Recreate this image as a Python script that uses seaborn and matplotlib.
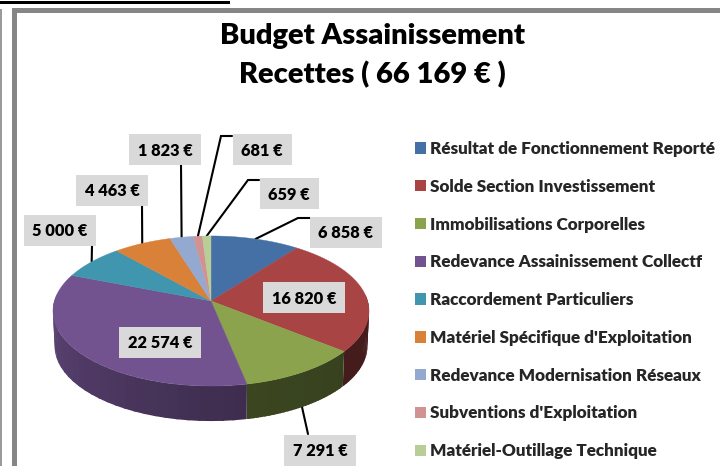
"""
Budget Assainissement - Recettes, 3D looking pie.
"""

import numpy as np
import matplotlib
matplotlib.use('Agg')
import matplotlib.pyplot as plt
from matplotlib.patches import Patch, Rectangle
import seaborn as sns

# Data
categories = ["Résultat de Fonctionnement Reporté", "Solde Section Investissement",
              "Immobilisations Corporelles", "Redevance Assainissement Collectf",
              "Raccordement Particuliers", "Matériel Spécifique d'Exploitation",
              "Redevance Modernisation Réseaux", "Subventions d'Exploitation",
              "Matériel-Outillage Technique"]
values = [6858, 16820, 7291, 22574, 5000, 4463, 1823, 681, 659]
value_labels = ["6 858 €", "16 820 €", "7 291 €", "22 574 €", "5 000 €",
                "4 463 €", "1 823 €", "681 €", "659 €"]
title_lines = ["Budget Assainissement", "Recettes ( 66 169 € )"]

# Style
hex_colors = ['#4470A6', '#A84544', '#8AA34C', '#725390', '#4096AE',
              '#D98039', '#93A9D0', '#D19392', '#B9CD96']
# wall brightness at start / end of each slice (clockwise)
wall_shade = [(.4, .4), (.42, .40), (.40, .43), (.54, .88), (.6, .6),
              (.6, .6), (.6, .6), (.6, .6), (.6, .6)]
# label box centres in pixels
label_pos = [(346, 232), (304, 297), (320, 450), (160, 342), (60, 230),
             (112, 190), (165, 149), (262, 149), (289, 193)]
box_sizes = [(72, 31), (82, 31), (72, 31), (82, 31), (72, 31),
             (72, 31), (72, 31), (59, 31), (59, 31)]
# leader start points and elbows, None = label sits on the slice
leader_paths = [[(310, 218), (298, 218)], None, [(308, 434)], None, [(92, 245)],
                [(142, 205)], [(181, 164)], [(232, 136), (221, 136)], [(259, 180), (248, 180)]]

sns.set_theme(style='white')
plt.rcParams['font.family'] = ['Lato', 'DejaVu Sans']
plt.rcParams['font.weight'] = 'bold'
palette = sns.color_palette(hex_colors)

# Pie geometry
cx, cy, rx, ry, persp = 211, 301, 156.6, 73.7, 0.1333
depth, bottom_scale = 35, 0.99


def rim(angle_deg):
    # clockwise from 12 o'clock, with a bit of perspective
    a = np.radians(angle_deg)
    u, v = np.sin(a), np.cos(a)
    d = 1 + persp * v
    return cx + rx * u / d, cy - ry * v / d


def rim_bottom(angle_deg):
    x, y = rim(angle_deg)
    return cx + (x - cx) * bottom_scale, y + depth


fig, ax = plt.subplots(figsize=(7.2, 4.66), dpi=100)
fig.subplots_adjust(0, 0, 1, 1)
ax.set_xlim(0, 720)
ax.set_ylim(466, 0)
ax.axis('off')

# Frame and the cut off underline above it
ax.add_patch(Rectangle((12, 8), 708, 5, color='#868686', lw=0))
ax.add_patch(Rectangle((12, 8), 5, 458, color='#868686', lw=0))
ax.add_patch(Rectangle((0, 9), 2, 457, color='#9a9a9a', lw=0))
ax.add_patch(Rectangle((0, 1), 230, 2.5, color='black', lw=0))

# Slices
fractions = np.array(values) / sum(values) * 360
edges = np.concatenate([[0], np.cumsum(fractions)])

# Walls first, top face goes over them
for i in range(len(values)):
    start, end = max(edges[i], 85), min(edges[i + 1], 275)
    if end <= start:
        continue
    steps = np.linspace(start, end, 30)
    for a0, a1 in zip(steps[:-1], steps[1:]):
        t = (a0 - edges[i]) / fractions[i]
        shade = wall_shade[i][0] + (wall_shade[i][1] - wall_shade[i][0]) * t
        color = tuple(c * shade for c in palette[i])
        # small overlap so no seams show between the strips
        arc = np.linspace(a0, min(a1 + 1.0, end), 6)
        tx, ty = rim(arc)
        bx, by = rim_bottom(arc[::-1])
        ax.fill(np.r_[tx, bx], np.r_[ty, by], facecolor=color, edgecolor='none', lw=0, zorder=2)

for i in range(len(values)):
    arc = np.linspace(edges[i], edges[i + 1], 80)
    xs, ys = rim(arc)
    ax.fill(np.r_[cx, xs], np.r_[cy, ys], color=palette[i], lw=0.3, zorder=3)

# Leaders and value boxes
for i, label in enumerate(value_labels):
    if leader_paths[i] is not None:
        mid = (edges[i] + edges[i + 1]) / 2
        end = rim_bottom(mid) if 90 < mid < 270 else rim(mid)
        pts = leader_paths[i] + [end]
        ax.plot(*zip(*pts), color='black', lw=1.5, solid_joinstyle='miter', zorder=1)
    x, y = label_pos[i]
    w, h = box_sizes[i]
    ax.add_patch(Rectangle((x - w / 2, y - h / 2), w, h, color='#D9D9D9', lw=0, zorder=4))
    ax.text(x, y + 1.5, label, ha='center', va='center', fontsize=11.8, fontweight='heavy',
            color='black', zorder=5)

# Title
ax.text(372, 36, title_lines[0], ha='center', va='center', fontsize=21,
        fontweight='heavy', color='black')
ax.text(372, 75, title_lines[1], ha='center', va='center', fontsize=21,
        fontweight='heavy', color='black')

# Legend
handles = [Patch(facecolor=palette[i], edgecolor='none', label=c) for i, c in enumerate(categories)]
ax.legend(handles=handles, loc='upper left', bbox_to_anchor=(415 / 720, 1 - 141 / 466),
          frameon=False, borderpad=0, borderaxespad=0,
          handlelength=0.64, handleheight=0.64, handletextpad=0.25, labelspacing=1.275,
          prop={'weight': 'heavy', 'size': 12.3})

plt.savefig('out.png', dpi=100)
